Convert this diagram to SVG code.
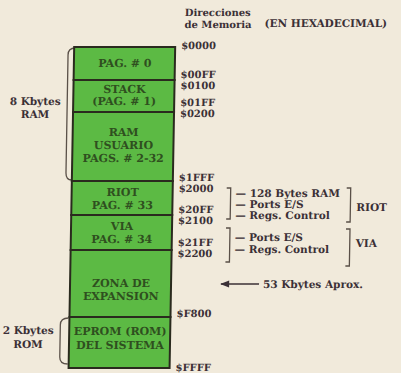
<svg xmlns="http://www.w3.org/2000/svg" width="401" height="373" viewBox="0 0 401 373">
<style>
.t{font-family:"DejaVu Serif","Liberation Serif",serif;font-weight:bold;font-size:10.5px;fill:#3b3036}
.a{font-size:10px}
.b{font-family:"DejaVu Serif","Liberation Serif",serif;font-weight:bold;font-size:11px;fill:#2f4f1f;text-anchor:middle}
.c{text-anchor:middle}
.cell{fill:#5cba44;stroke:#2a2a1e;stroke-width:2}
.br{fill:none;stroke:#5a5048;stroke-width:1.3}
</style>
<defs>
<marker id="ah" viewBox="0 0 10 10" refX="1" refY="5" markerWidth="8" markerHeight="6" orient="auto">
<path d="M10,1 L0,5 L10,9 Z" fill="#3b3036"/>
</marker>
</defs>
<rect width="401" height="373" fill="#f1eadb"/>
<g transform="skewX(-1)">
<g id="header">
<text class="t a" x="185" y="16">Direcciones</text>
<text class="t a" x="185" y="28">de Memoria</text>
<text class="t" x="265" y="27" font-size="11">(EN HEXADECIMAL)</text>
</g>
<g id="ram-label">
<path class="br" d="M76,48 Q69,48 69,55 V173 Q69,180 75,180"/>
<text class="t c" x="37" y="105">8 Kbytes</text>
<text class="t c" x="37" y="118">RAM</text>
</g>
<g id="rom-label">
<path class="br" d="M74,318 Q66,318 66,325 V357 Q66,364 74,364"/>
<text class="t c" x="34" y="334">2 Kbytes</text>
<text class="t c" x="34" y="348">ROM</text>
</g>
<g id="pag0"><rect class="cell" x="75" y="47" width="101" height="33"/><text class="b" x="126" y="67">PAG. # 0</text></g>
<g id="stack"><rect class="cell" x="75" y="80" width="101" height="32"/><text class="b" x="126" y="93">STACK</text><text class="b" x="126" y="105">(PAG. # 1)</text></g>
<g id="ram-usuario"><rect class="cell" x="75" y="112" width="101" height="69"/><text class="b" x="126" y="136">RAM</text><text class="b" x="126" y="149">USUARIO</text><text class="b" x="126" y="162">PAGS. # 2-32</text></g>
<g id="riot"><rect class="cell" x="75" y="181" width="101" height="34"/><text class="b" x="126" y="196">RIOT</text><text class="b" x="126" y="209">PAG. # 33</text></g>
<g id="via"><rect class="cell" x="75" y="215" width="101" height="35"/><text class="b" x="126" y="230">VIA</text><text class="b" x="126" y="243">PAG. # 34</text></g>
<g id="zona"><rect class="cell" x="75" y="250" width="101" height="67"/><text class="b" x="126" y="287">ZONA DE</text><text class="b" x="126" y="300">EXPANSION</text></g>
<g id="eprom"><rect class="cell" x="75" y="317" width="101" height="51"/><text class="b" x="126" y="335">EPROM (ROM)</text><text class="b" x="126" y="349">DEL SISTEMA</text></g>
<g id="addresses">
<text class="t a" x="182" y="49">$0000</text>
<text class="t a" x="182" y="78">$00FF</text>
<text class="t a" x="182" y="89">$0100</text>
<text class="t a" x="182" y="106">$01FF</text>
<text class="t a" x="182" y="117">$0200</text>
<text class="t a" x="182" y="181">$1FFF</text>
<text class="t a" x="182" y="192">$2000</text>
<text class="t a" x="182" y="213">$20FF</text>
<text class="t a" x="182" y="224">$2100</text>
<text class="t a" x="182" y="246">$21FF</text>
<text class="t a" x="182" y="257">$2200</text>
<text class="t a" x="182" y="317">$F800</text>
<text class="t a" x="182" y="371">$FFFF</text>
</g>
<g id="riot-detail">
<path class="br" d="M230,188 H234 V219 H230"/>
<text class="t" x="239" y="197">— 128 Bytes RAM</text>
<text class="t" x="239" y="208">— Ports E/S</text>
<text class="t" x="239" y="219">— Regs. Control</text>
<path class="br" d="M350,188 H354 V222 H350"/>
<text class="t" x="360" y="211">RIOT</text>
</g>
<g id="via-detail">
<path class="br" d="M230,228 H234 V262 H230"/>
<text class="t" x="239" y="241">— Ports E/S</text>
<text class="t" x="239" y="253">— Regs. Control</text>
<path class="br" d="M350,229 H354 V266 H350"/>
<text class="t" x="360" y="247">VIA</text>
</g>
<g id="connectors">
<line x1="226" y1="284" x2="264" y2="284" stroke="#3b3036" stroke-width="1.5" marker-start="url(#ah)"/>
<text class="t" x="268" y="288">53 Kbytes Aprox.</text>
</g>
</g>
</svg>
